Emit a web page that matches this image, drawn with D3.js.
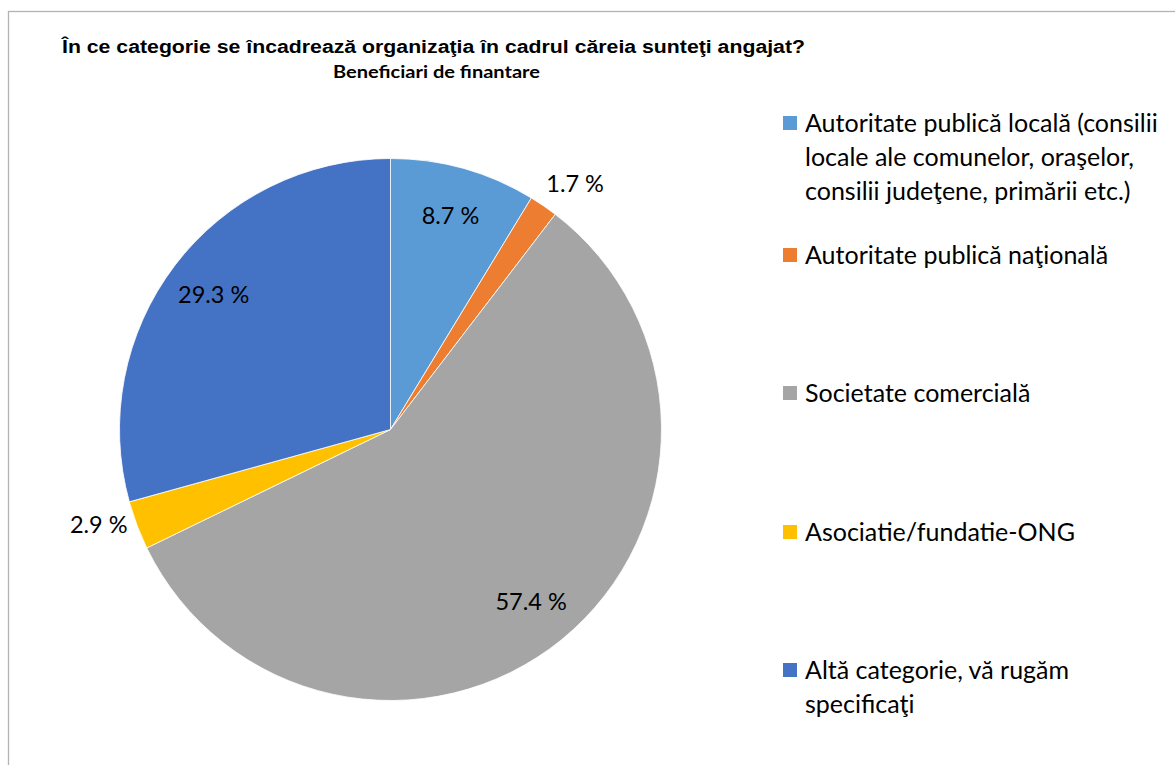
<!DOCTYPE html>
<html>
<head>
<meta charset="utf-8">
<script src="https://cdn.jsdelivr.net/npm/d3@7"></script>
<style>
  body { margin: 0; background: #fff; }
  svg { display: block; }
</style>
</head>
<body>
<svg id="chart" width="1175" height="765"></svg>
<script>
// date din grafic
const categories = [
  "Autoritate publică locală (consilii locale ale comunelor, oraşelor, consilii judeţene, primării etc.)",
  "Autoritate publică naţională",
  "Societate comercială",
  "Asociatie/fundatie-ONG",
  "Altă categorie, vă rugăm specificaţi"
]
// textul legendei pe randuri, ca in original
const legendLines = [
  ["Autoritate publică locală (consilii", "locale ale comunelor, oraşelor,", "consilii judeţene, primării etc.)"],
  ["Autoritate publică naţională"],
  ["Societate comercială"],
  ["Asociatie/fundatie-ONG"],
  ["Altă categorie, vă rugăm", "specificaţi"]
]
const values = [8.7, 1.7, 57.4, 2.9, 29.3]
const colors = ["#5b9bd5", "#ed7d31", "#a5a5a5", "#ffc000", "#4472c4"]

const title = "În ce categorie se încadrează organizaţia în cadrul căreia sunteţi angajat?"
const subtitle = "Beneficiari de finantare"

const width = 1175, height = 765
const cx = 390.5, cy = 429.5, radius = 271
const svg = d3.select('#chart')

// chenarul (doar sus si stanga se vad)
svg.append('rect')
  .attr('x', 8.5).attr('y', 11.5)
  .attr('width', width + 20).attr('height', height + 20)
  .attr('fill', 'none')
  .attr('stroke', '#b3b3b3')
  .attr('stroke-width', 1.3)

// titlul e latit in original, deci textLength
svg.append('text')
  .attr('x', 62).attr('y', 53)
  .attr('textLength', 743)
  .attr('lengthAdjust', 'spacingAndGlyphs')
  .style('font-family', '"Liberation Sans", Arial, sans-serif')
  .style('font-weight', 'bold')
  .style('font-size', '18px')
  .text(title)

svg.append('text')
  .attr('x', 333).attr('y', 78)
  .attr('textLength', 207)
  .attr('lengthAdjust', 'spacingAndGlyphs')
  .style('font-family', 'Lato, sans-serif')
  .style('font-weight', 'bold')
  .style('font-size', '16.5px')
  .text(subtitle)

const data = categories.map((c, i) => ({ name: c, value: values[i], color: colors[i] }))
const pie = d3.pie().value(d => d.value).sort(null)
const arcs = pie(data)
const arc = d3.arc().innerRadius(0).outerRadius(radius)
const inLabel = d3.arc().innerRadius(radius * 0.82).outerRadius(radius * 0.82)
const outLabel = d3.arc().innerRadius(radius + 36).outerRadius(radius + 36)

const g = svg.append('g').attr('transform', `translate(${cx},${cy})`)

g.selectAll('path')
  .data(arcs)
  .join('path')
  .attr('d', arc)
  .attr('fill', d => d.data.color)
  .attr('stroke', '#fff')
  .attr('stroke-width', 0.8)

// etichetele mici stau in afara feliei, putin rotite ca in original
g.selectAll('text.lbl')
  .data(arcs)
  .join('text')
  .attr('class', 'lbl')
  .attr('transform', d => {
    let p
    if (d.data.value < 5) {
      const a = (d.startAngle + d.endAngle) / 2 + 0.045
      p = outLabel.centroid({ startAngle: a, endAngle: a })
    } else {
      p = inLabel.centroid(d)
    }
    return `translate(${p[0]},${p[1]})`
  })
  .attr('text-anchor', 'middle')
  .attr('dy', '0.35em')
  .style('font-family', 'Lato, sans-serif')
  .style('font-size', '23.5px')
  .style('fill', '#000')
  .text(d => d3.format('.1f')(d.data.value) + ' %')

// legenda
const legendX = 783, legendTops = [123, 255, 393, 532, 670], lineH = 34
const leg = svg.append('g')
legendLines.forEach((lines, i) => {
  const y0 = legendTops[i]
  leg.append('rect')
    .attr('x', legendX).attr('y', y0 - 7)
    .attr('width', 14).attr('height', 14)
    .attr('fill', colors[i])
  const t = leg.append('text')
    .attr('x', legendX + 22).attr('y', y0)
    .style('font-family', 'Lato, sans-serif')
    .style('font-size', '25px')
    .style('fill', '#000')
  lines.forEach((ln, j) => {
    t.append('tspan').attr('x', legendX + 22).attr('dy', j === 0 ? '0.35em' : lineH).text(ln)
  })
})
</script>
</body>
</html>
